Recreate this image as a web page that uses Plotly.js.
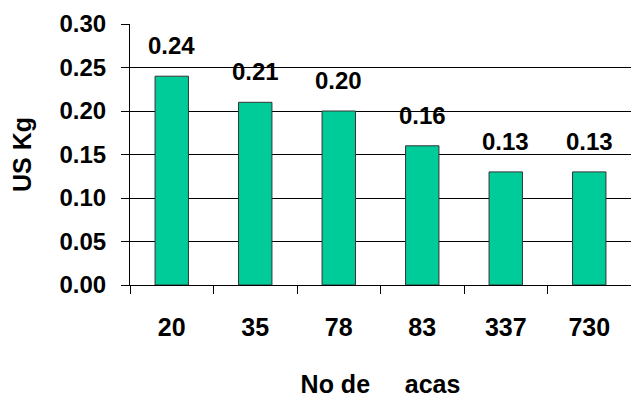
<!DOCTYPE html>
<html>
<head>
<meta charset="utf-8">
<script src="https://cdn.plot.ly/plotly-3.0.1.min.js"></script>
<style>html,body{margin:0;padding:0;background:#fff;}#chart{width:631px;height:398px;}</style>
</head>
<body>
<div id="chart"></div>
<script>
var categories = ["20", "35", "78", "83", "337", "730"];
var values = [0.24, 0.21, 0.20, 0.16, 0.13, 0.13];
var yTickVals = [0, 0.05, 0.10, 0.15, 0.20, 0.25, 0.30];
var yTickText = ["0.00", "0.05", "0.10", "0.15", "0.20", "0.25", "0.30"];
var xTitle = "No de\u00a0\u00a0\u00a0\u00a0\u00a0acas";
var yTitle = "US Kg";

var FONT = "Liberation Sans, Arial, sans-serif";

var trace = {
  type: "bar",
  x: categories,
  y: values,
  marker: { color: "#00CC99", line: { color: "#333333", width: 1 } },
  hoverinfo: "none"
};

var annotations = categories.map(function (c, i) {
  return {
    x: i, y: values[i], xref: "x", yref: "y",
    text: "<b>" + values[i].toFixed(2) + "</b>",
    showarrow: false, yanchor: "bottom", xanchor: "center",
    yshift: 15,
    font: { family: FONT, size: 24, color: "#000" }
  };
});

var layout = {
  width: 631, height: 398,
  margin: { l: 130, r: 0, t: 24, b: 113 },
  paper_bgcolor: "#fff", plot_bgcolor: "#fff",
  showlegend: false,
  bargap: 0.6,
  xaxis: {
    type: "category",
    categoryorder: "array", categoryarray: categories,
    range: [-0.5, categories.length - 0.5],
    tickson: "boundaries",
    ticks: "outside", ticklen: 8, tickcolor: "#000", tickwidth: 1,
    showline: true, linecolor: "#000", linewidth: 1,
    showgrid: false,
    tickangle: 0,
    tickfont: { family: FONT, size: 25, color: "#000", weight: "bold" },
    ticklabelstandoff: 20,
    title: { text: "<b>" + xTitle + "</b>", font: { family: FONT, size: 25, color: "#000" }, standoff: 37 }
  },
  yaxis: {
    range: [0, 0.30],
    tickvals: yTickVals, ticktext: yTickText,
    ticks: "outside", ticklen: 8, tickcolor: "#000", tickwidth: 1,
    showline: true, linecolor: "#000", linewidth: 1,
    showgrid: true, gridcolor: "#000", gridwidth: 1,
    zeroline: false,
    tickfont: { family: FONT, size: 24, color: "#000", weight: "bold" },
    ticklabelstandoff: 10,
    title: { text: "<b>" + yTitle + "</b>", font: { family: FONT, size: 25, color: "#000" }, standoff: 20 }
  },
  annotations: annotations
};

Plotly.newPlot("chart", [trace], layout, { staticPlot: true, displayModeBar: false });
</script>
</body>
</html>
